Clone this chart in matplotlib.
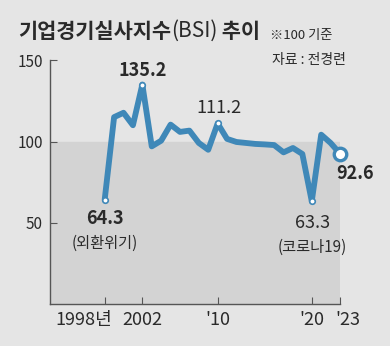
import matplotlib
matplotlib.use("Agg")
import matplotlib.pyplot as plt
from matplotlib.transforms import ScaledTranslation

plt.rcParams['font.family'] = ['Noto Sans CJK KR', 'DejaVu Sans']

# 연도별 BSI (1998~2023)
years = list(range(1998, 2024))
bsi = [64.3, 115.1, 117.8, 110.1, 135.2, 97.1, 100.6, 110.5, 106.0, 106.8,
       99.2, 95.0, 111.2, 101.7, 99.8, 99.2, 98.6, 98.3, 97.9, 93.4,
       96.1, 92.4, 63.3, 104.3, 99.2, 92.6]

tick_years = [1998, 2002, 2010, 2020, 2023]
tick_labels = ['1998년', '2002', "'10", "'20", "'23"]

# 값 표시할 연도: (연도, 글자, 굵기, x 오프셋 px, y 오프셋 px)
marked = [1998, 2002, 2010, 2020]
notes = [
    (1998, '64.3', 'bold', 0, -19),
    (2002, '135.2', 'bold', 0, 14),
    (2010, '111.2', 'normal', 1, 15),
    (2020, '63.3', 'normal', 1, -22),
    (2023, '92.6', 'bold', 15, -20),
]
sub_notes = [(1998, '(외환위기)', -44), (2020, '(코로나19)', -46)]

bg = '#e5e5e5'
shade = '#d3d3d3'
blue = '#3f88b8'
dark = '#2a2a2a'

fig = plt.figure(figsize=(3.9, 3.46), dpi=100, facecolor=bg)
ax = fig.add_axes([0.1282, 0.1214, 0.7436, 0.7038])
ax.set_facecolor('none')

ax.set_xlim(1992.19, 2023)
ax.set_ylim(0, 150)
ax.axhspan(0, 100, color=shade, zorder=0)

ax.plot(years, bsi, color=blue, lw=4.2, solid_joinstyle='round', solid_capstyle='round',
        zorder=3, clip_on=False)
mx = [y for y in marked]
my = [bsi[years.index(y)] for y in marked]
ax.plot(mx, my, 'o', ms=4, mfc='white', mec=blue, mew=1.2, zorder=4, clip_on=False)
ax.plot(years[-1], bsi[-1], 'o', ms=9, mfc='white', mec=blue, mew=2.4, zorder=4, clip_on=False)

for yr, txt, wt, dx, dy in notes:
    ax.annotate(txt, (yr, bsi[years.index(yr)]), xytext=(dx * 0.72, dy * 0.72),
                textcoords='offset points', ha='center', va='center',
                fontsize=13, fontweight=wt, color=dark, zorder=5)
for yr, txt, dy in sub_notes:
    ax.annotate(txt, (yr, bsi[years.index(yr)]), xytext=(0, dy * 0.72),
                textcoords='offset points', ha='center', va='center',
                fontsize=11, color=dark, zorder=5)

for s in ['top', 'right']:
    ax.spines[s].set_visible(False)
for s in ['left', 'bottom']:
    ax.spines[s].set_color('#555555')
    ax.spines[s].set_linewidth(1.0)

ax.set_yticks([50, 100, 150])
ax.set_yticklabels(['50', '100', '150'])
ax.tick_params(axis='y', direction='in', length=5, width=0.8, color='#555555',
               labelsize=11, labelcolor=dark, pad=5)
ax.set_xticks(tick_years)
ax.set_xticklabels(tick_labels)
ax.tick_params(axis='x', direction='in', length=5, width=0.8, color='#555555',
               labelsize=13, labelcolor=dark, pad=5)

# 1998년, '23 라벨은 눈금에서 살짝 비켜 있음
xl = ax.get_xticklabels()
xl[0].set_transform(xl[0].get_transform() + ScaledTranslation(-0.21, 0, fig.dpi_scale_trans))
xl[-1].set_transform(xl[-1].get_transform() + ScaledTranslation(0.08, 0, fig.dpi_scale_trans))

# 제목 (BSI 부분만 가늘게)
fig.canvas.draw()
r = fig.canvas.get_renderer()
x0 = 18 / 390
ty = 1 - 31 / 346
parts = [('기업경기실사지수', 'bold'), ('(BSI)', 'normal'), (' 추이', 'bold')]
for txt, wt in parts:
    t = fig.text(x0, ty, txt, fontsize=15, fontweight=wt, color=dark, va='center', ha='left')
    bb = t.get_window_extent(renderer=r)
    x0 = bb.x1 / fig.bbox.width

fig.text(270 / 390, 1 - 35 / 346, '※100 기준', fontsize=9.5, color=dark, va='center', ha='left')
fig.text(272 / 390, 1 - 60 / 346, '자료 : 전경련', fontsize=10, color=dark, va='center', ha='left')

fig.savefig('out.png', dpi=100, facecolor=bg)
